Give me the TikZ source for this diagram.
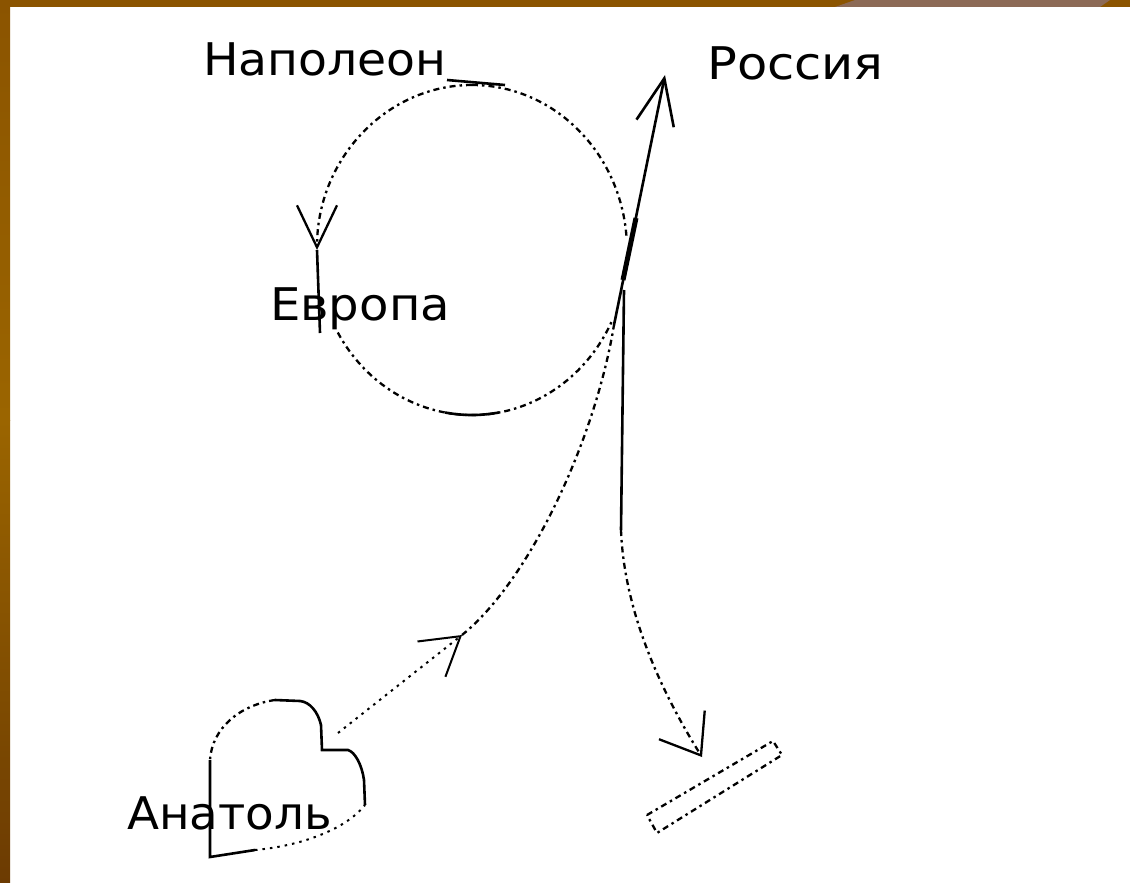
\documentclass[tikz,border=0pt]{standalone}
\usepackage{fontspec}
\setmainfont{DejaVu Sans}
\usepackage{graphicx}
\usetikzlibrary{arrows.meta}
\definecolor{frameA}{HTML}{8B5400}
\definecolor{frameB}{HTML}{9B6500}
\definecolor{frameC}{HTML}{6C3B02}
\definecolor{frameD}{HTML}{8C6A56}
\begin{document}
\begin{tikzpicture}[x=1pt,y=-1pt,
  sk/.style={line width=2.3pt, dash pattern=on 6pt off 4pt on 2.5pt off 4pt},
  skd/.style={line width=2pt, dash pattern=on 2.5pt off 5pt},
  sks/.style={line width=2.6pt},
  lbl/.style={inner sep=0pt, anchor=base west, font=\fontsize{45}{54}\selectfont}]
\useasboundingbox (0,0) rectangle (1130,883);
\fill[white] (0,0) rectangle (1130,883);
% frame
\shade[top color=frameA, bottom color=frameB] (0,0) rectangle (10,420);
\shade[top color=frameB, bottom color=frameC] (0,420) rectangle (10,883);
\fill[frameA] (0,0) rectangle (1130,7);
\fill[frameD] (835,7) -- (855,0) -- (1110,0) -- (1100,7) -- cycle;
% labels
\node[lbl] (nap) at (203,75) {\scalebox{1.05}[1]{Наполеон}};
\node[lbl] (rus) at (707,79) {\scalebox{1.1}[1]{Россия}};
\node[lbl] (eur) at (270,320) {\scalebox{1.07}[1]{Европа}};
\node[lbl] (ana) at (127,829) {\scalebox{1.04}[1]{Анатоль}};
% coordinates
\coordinate (C) at (472,250);
\coordinate (J) at (614,325);
\coordinate (Rt) at (665,75);
\coordinate (At) at (462,635);
\coordinate (Bt) at (702,757);
\coordinate (H) at (338,733);
% circle
\draw[sk, -{Straight Barb[length=42pt,width=40pt]}] (C) ++(270:155 and 165)
  arc[start angle=270, end angle=180, x radius=155, y radius=165];
\draw[sks] (C) ++(180:155 and 165) -- (320,333);
\draw[sk] (C) ++(150:155 and 165)
  arc[start angle=150, end angle=25, x radius=155, y radius=165];
\draw[sk] (C) ++(270:155 and 165)
  arc[start angle=270, end angle=355, x radius=155, y radius=165];
\draw[sks] (447,80) -- (505,85);
\draw[sks] (C) ++(100:155 and 165)
  arc[start angle=100, end angle=80, x radius=155, y radius=165];
% Russia
\draw[sks, -{Straight Barb[length=46pt,width=38pt]}] (J) -- (Rt);
\draw[line width=5pt] (623,280) -- (636,218);
% down line
\draw[sks] (624,290) -- (621,530);
\draw[sk, -{Straight Barb[length=36pt,width=54pt]}] (621,530)
  .. controls (624,610) and (660,690) .. (Bt);
% Anatol arrow
\draw[skd, -{Straight Barb[length=37pt,width=45pt]}] (H) -- (At);
\draw[sk] (At) .. controls (530,580) and (595,440) .. (J);
% bar
\draw[sk] (647,815) -- (773,741) -- (782,755) -- (657,833) -- cycle;
% heart
\draw[sks] (210,760) -- (210,857) -- (255,850);
\draw[skd] (255,850) .. controls (300,846) and (345,830) .. (365,805);
\draw[sks] (365,805) -- (364,780) .. controls (362,765) and (355,752) .. (348,750)
  -- (322,750) -- (321,725) .. controls (318,712) and (310,702) .. (300,701) -- (275,700);
\draw[sk] (275,700) .. controls (240,705) and (212,728) .. (210,760);
\end{tikzpicture}
\end{document}
